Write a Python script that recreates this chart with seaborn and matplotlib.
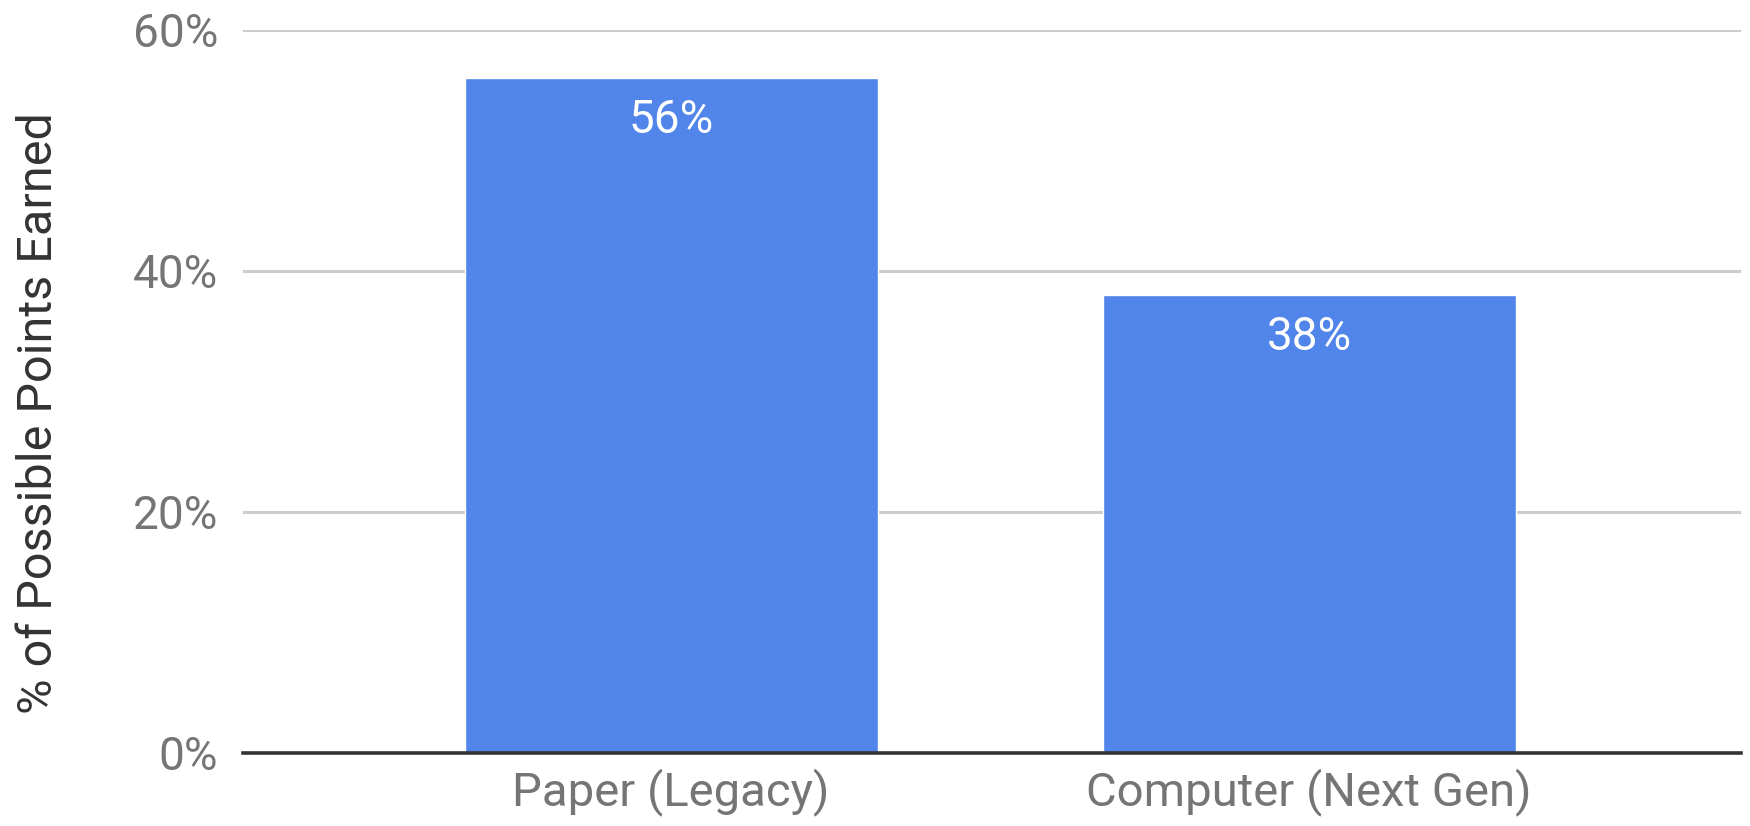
import matplotlib
matplotlib.use("Agg")
import matplotlib.pyplot as plt
import seaborn as sns
import pandas as pd
from matplotlib.ticker import FuncFormatter

categories = ["Paper (Legacy)", "Computer (Next Gen)"]
values = [0.56, 0.38]
value_labels = ["56%", "38%"]
ytick_values = [0.0, 0.2, 0.4, 0.6]

sns.set_theme(style="white")
plt.rcParams["font.family"] = ["Roboto", "DejaVu Sans"]

df = pd.DataFrame({"category": categories, "value": values})

fig = plt.figure(figsize=(17.5, 8.26), dpi=100)
ax = fig.add_axes([0.1389, 0.0884, 0.9949 - 0.1389, 0.9637 - 0.0884])

sns.barplot(data=df, x="category", y="value", color="#5185EA", saturation=1,
            width=0.647, ax=ax, zorder=3)

ax.set_ylim(0, 0.6)
ax.set_xlim(-0.671, 1.677)
ax.set_yticks(ytick_values)
ax.yaxis.set_major_formatter(FuncFormatter(lambda v, p: f"{v*100:.0f}%"))
ax.grid(axis="y", color="#cccccc", linewidth=2.2, zorder=0)
ax.grid(axis="x", visible=False)
for s in ["top", "right", "left"]:
    ax.spines[s].set_visible(False)
ax.spines["bottom"].set_color("#333333")
ax.spines["bottom"].set_linewidth(2.6)
ax.spines["bottom"].set_zorder(4)
ax.tick_params(axis="y", length=0, pad=18, labelsize=33, labelcolor="#757575")
ax.tick_params(axis="x", length=0, pad=11, labelsize=34, labelcolor="#757575")
ax.set_xlabel("")
ax.set_ylabel("")

for i, (v, lab) in enumerate(zip(values, value_labels)):
    ax.annotate(lab, xy=(i, v), xytext=(0, -42), textcoords="offset pixels",
                ha="center", va="center", color="white", fontsize=33, zorder=5)

fig.text(39 / 1750, 1 - 413 / 826, "% of Possible Points Earned", rotation=90,
         ha="center", va="center", fontsize=35, color="#333333")

fig.savefig("out.png", dpi=100, facecolor="white")
